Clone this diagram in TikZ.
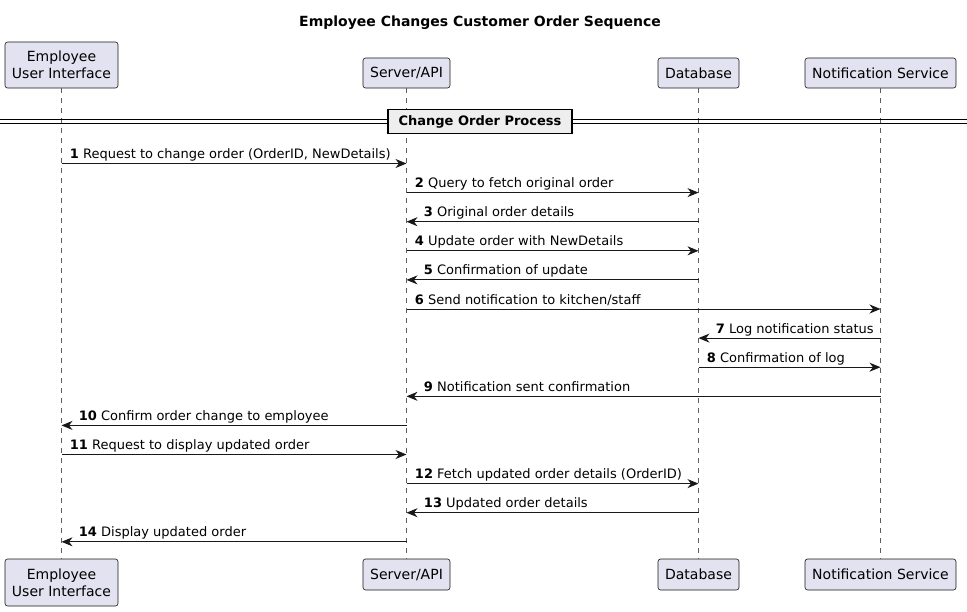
\documentclass[tikz,border=0pt]{standalone}
\usepackage{fontspec}
\setmainfont{DejaVu Sans}
\usepackage{tikz}
\usetikzlibrary{arrows.meta}
\definecolor{partfill}{HTML}{E2E2F0}
\definecolor{ink}{HTML}{181818}
\definecolor{grpfill}{HTML}{EEEEEE}
\tikzset{
  part/.style={draw=ink,line width=0.6pt,fill=partfill,rounded corners=2.5pt,align=center,
    inner sep=0pt,font=\fontsize{14}{17}\selectfont,text=black},
  life/.style={draw=ink!70,line width=0.5pt,dash pattern=on 5pt off 5pt},
  msg/.style={draw=ink,line width=0.9pt,-{Stealth[length=11pt,width=9pt,inset=3.5pt]}},
  fwdtxt/.style={pos=0,anchor=base west,xshift=8pt,yshift=5pt,inner sep=0pt,font=\fontsize{13}{15}\selectfont},
  backtxt/.style={pos=1,anchor=base west,xshift=17pt,yshift=5pt,inner sep=0pt,font=\fontsize{13}{15}\selectfont}
}
\begin{document}
\begin{tikzpicture}[x=1pt,y=-1pt,line cap=butt]

\useasboundingbox (0,0) rectangle (967,611);

\node[font=\fontsize{14}{17}\selectfont\bfseries] (title) at (480,23) {Employee Changes Customer Order Sequence};

\node[part,minimum width=113pt,minimum height=46pt] (ui) at (61.5,65) {Employee\\User Interface};
\node[part,minimum width=87pt,minimum height=30pt] (api) at (406.5,73) {Server/API};
\node[part,minimum width=81pt,minimum height=30pt] (db) at (698.5,73) {Database};
\node[part,minimum width=151pt,minimum height=30pt] (ns) at (880.5,73) {Notification Service};

\node[part,minimum width=113pt,minimum height=47pt] (uiB) at (61.5,582.5) {Employee\\User Interface};
\node[part,minimum width=87pt,minimum height=31pt] (apiB) at (406.5,574.5) {Server/API};
\node[part,minimum width=81pt,minimum height=31pt] (dbB) at (698.5,574.5) {Database};
\node[part,minimum width=151pt,minimum height=31pt] (nsB) at (880.5,574.5) {Notification Service};

\draw[life] (ui.south) -- (uiB.north);
\draw[life] (api.south) -- (apiB.north);
\draw[life] (db.south) -- (dbB.north);
\draw[life] (ns.south) -- (nsB.north);

\draw[line width=0.9pt] (0,119.5) -- (967,119.5);
\draw[line width=0.9pt] (0,123.5) -- (967,123.5);
\node[draw=black,line width=1.6pt,fill=grpfill,minimum width=184pt,minimum height=24pt,inner sep=0pt,
  font=\fontsize{13}{15}\selectfont\bfseries] (grp) at (480,121.5) {Change Order Process};

\foreach \i in {1,...,14}
  \coordinate (r\i) at (0,{134.4+29.1*\i});

\draw[msg] (ui |- r1) -- (api |- r1) node[fwdtxt] {\textbf{1} Request to change order (OrderID, NewDetails)};
\draw[msg] (api |- r2) -- (db |- r2) node[fwdtxt] {\textbf{2} Query to fetch original order};
\draw[msg] (db |- r3) -- (api |- r3) node[backtxt] {\textbf{3} Original order details};
\draw[msg] (api |- r4) -- (db |- r4) node[fwdtxt] {\textbf{4} Update order with NewDetails};
\draw[msg] (db |- r5) -- (api |- r5) node[backtxt] {\textbf{5} Confirmation of update};
\draw[msg] (api |- r6) -- (ns |- r6) node[fwdtxt] {\textbf{6} Send notification to kitchen/staff};
\draw[msg] (ns |- r7) -- (db |- r7) node[backtxt] {\textbf{7} Log notification status};
\draw[msg] (db |- r8) -- (ns |- r8) node[fwdtxt] {\textbf{8} Confirmation of log};
\draw[msg] (ns |- r9) -- (api |- r9) node[backtxt] {\textbf{9} Notification sent confirmation};
\draw[msg] (api |- r10) -- (ui |- r10) node[backtxt] {\textbf{10} Confirm order change to employee};
\draw[msg] (ui |- r11) -- (api |- r11) node[fwdtxt] {\textbf{11} Request to display updated order};
\draw[msg] (api |- r12) -- (db |- r12) node[fwdtxt] {\textbf{12} Fetch updated order details (OrderID)};
\draw[msg] (db |- r13) -- (api |- r13) node[backtxt] {\textbf{13} Updated order details};
\draw[msg] (api |- r14) -- (ui |- r14) node[backtxt] {\textbf{14} Display updated order};
\end{tikzpicture}
\end{document}
